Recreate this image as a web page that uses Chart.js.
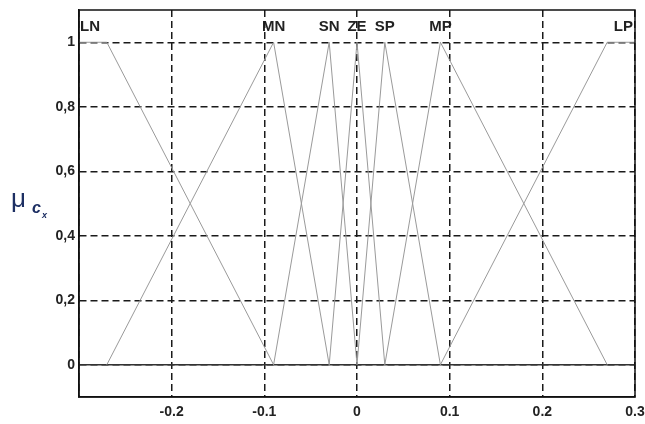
<!DOCTYPE html>
<html lang="en">

<head>
  <meta charset="UTF-8">
  <title>Membership functions</title>
  <script src="https://cdn.jsdelivr.net/npm/chart.js"></script>
  <style>
    body { margin: 0; background: #fff; }
  </style>
</head>

<body>
  <canvas id="mfChart" width="645" height="424"></canvas>

  <script>
    // fuzzy sets: names and breakpoints (x, mu)
    const setNames = ['LN', 'MN', 'SN', 'ZE', 'SP', 'MP', 'LP'];
    const lnX = [-0.3, -0.27, -0.09], lnY = [1, 1, 0];
    const mnX = [-0.27, -0.09, -0.03], mnY = [0, 1, 0];
    const snX = [-0.09, -0.03, 0], snY = [0, 1, 0];
    const zeX = [-0.03, 0, 0.03], zeY = [0, 1, 0];
    const spX = [0, 0.03, 0.09], spY = [0, 1, 0];
    const mpX = [0.03, 0.09, 0.27], mpY = [0, 1, 0];
    const lpX = [0.09, 0.27, 0.3], lpY = [0, 1, 1];
    const labelX = [-0.3, -0.09, -0.03, 0, 0.03, 0.09, 0.3];
    const zeroX = [-0.3, 0.3], zeroY = [0, 0];

    const xTicks = [-0.3, -0.2, -0.1, 0, 0.1, 0.2, 0.3];
    const yTicks = [0, 0.2, 0.4, 0.6, 0.8, 1];

    const toPts = (xs, ys) => xs.map((x, i) => ({ x: x, y: ys[i] }));
    const sets = [[lnX, lnY], [mnX, mnY], [snX, snY], [zeX, zeY], [spX, spY], [mpX, mpY], [lpX, lpY]];

    const datasets = sets.map((s, i) => ({
      label: setNames[i],
      data: toPts(s[0], s[1]),
      borderColor: '#9a9a9a',
      borderWidth: 1,
      pointRadius: 0,
      fill: false
    }));
    datasets.push({
      label: 'zero',
      data: toPts(zeroX, zeroY),
      borderColor: '#333',
      borderWidth: 1.3,
      pointRadius: 0
    });

    const tickFont = { family: 'Liberation Sans, Arial, sans-serif', size: 14, weight: 'bold' };

    // white bg, set names above the peaks, mu label
    const decor = {
      id: 'decor',
      beforeDraw(chart) {
        const ctx = chart.ctx, xs = chart.scales.x, ys = chart.scales.y;
        ctx.save();
        ctx.fillStyle = '#fff';
        ctx.fillRect(0, 0, chart.width, chart.height);
        ctx.font = 'bold 15px "Liberation Sans Narrow", "Liberation Sans", sans-serif';
        ctx.fillStyle = '#222';
        ctx.textBaseline = 'middle';
        const ty = ys.getPixelForValue(1) - 15;
        setNames.forEach((n, i) => {
          let px = xs.getPixelForValue(labelX[i]);
          ctx.textAlign = 'center';
          if (i === 0) { ctx.textAlign = 'left'; px += 1; }
          if (i === setNames.length - 1) { ctx.textAlign = 'right'; px -= 2; }
          ctx.fillText(n, px, ty);
        });
        ctx.restore();
      },
      afterDraw(chart) {
        const ctx = chart.ctx, a = chart.chartArea;
        ctx.save();
        ctx.strokeStyle = '#111';
        ctx.lineWidth = 1.5;
        ctx.strokeRect(a.left, a.top, a.right - a.left, a.bottom - a.top);
        // y axis title
        ctx.fillStyle = '#1d2f63';
        ctx.textBaseline = 'alphabetic';
        ctx.textAlign = 'left';
        ctx.font = '26px "Liberation Sans", sans-serif';
        ctx.fillText('\u03bc', 11, 207);
        ctx.font = 'bold italic 16px "Liberation Sans", sans-serif';
        ctx.fillText('c', 32, 213);
        ctx.font = 'bold italic 9px "Liberation Sans", sans-serif';
        ctx.fillText('x', 42, 218);
        ctx.restore();
      }
    };

    new Chart(document.getElementById('mfChart'), {
      type: 'line',
      data: { datasets: datasets },
      plugins: [decor],
      options: {
        responsive: false,
        animation: false,
        layout: { padding: { top: 10, right: 10, left: 0, bottom: 0 } },
        plugins: { legend: { display: false }, tooltip: { enabled: false } },
        scales: {
          x: {
            type: 'linear',
            min: -0.3,
            max: 0.3,
            afterBuildTicks: (s) => { s.ticks = xTicks.map(v => ({ value: v })); },
            afterFit: (s) => { s.height = 27; s.paddingRight = 0; s.paddingLeft = 0; },
            grid: { color: '#1a1a1a', lineWidth: 1.5, drawTicks: false },
            border: { display: true, color: '#111', width: 1.5, dash: [7, 4] },
            ticks: {
              padding: 7,
              color: '#222',
              font: tickFont,
              maxRotation: 0,
              callback: (v) => (v === -0.3 ? '' : String(Math.round(v * 10) / 10))
            }
          },
          y: {
            type: 'linear',
            min: -0.1,
            max: 1.1,
            afterBuildTicks: (s) => { s.ticks = yTicks.map(v => ({ value: v })); },
            afterFit: (s) => { s.width = 79; s.paddingTop = 0; s.paddingBottom = 0; },
            grid: { color: '#1a1a1a', lineWidth: 1.5, drawTicks: false },
            border: { display: true, color: '#111', width: 1.5, dash: [7, 4] },
            ticks: {
              padding: 4,
              color: '#222',
              font: tickFont,
              callback: (v) => String(Math.round(v * 10) / 10).replace('.', ',')
            }
          }
        }
      }
    });
  </script>
</body>

</html>
